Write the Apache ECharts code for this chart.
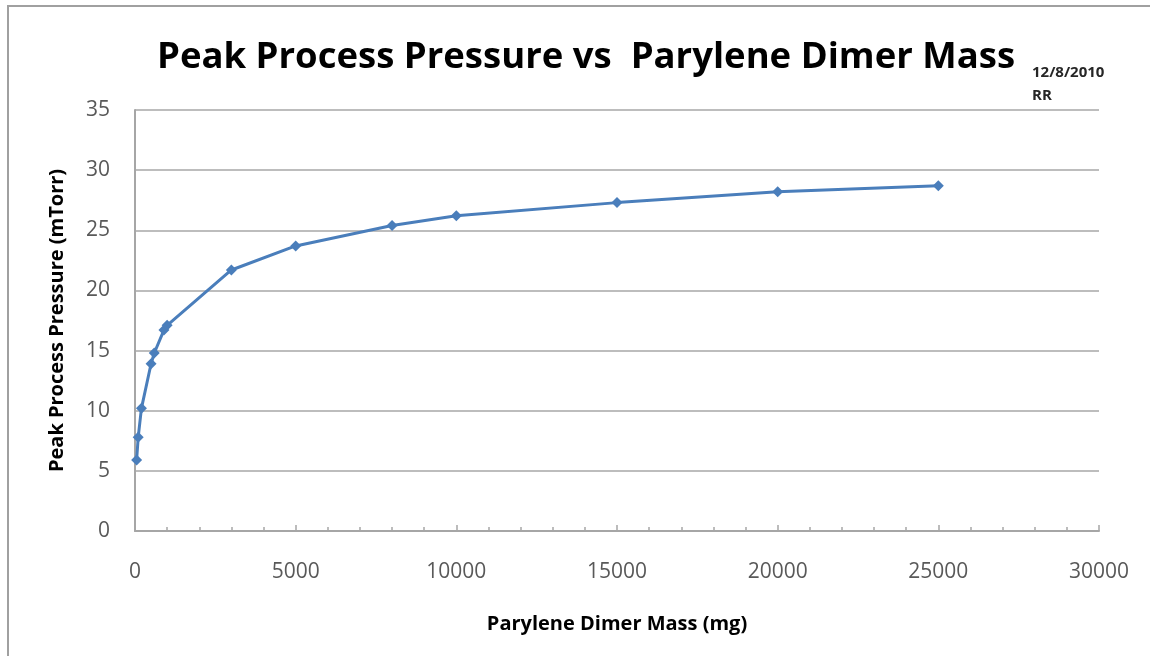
<!DOCTYPE html>
<html>
<head>
<meta charset="utf-8">
<script src="https://cdn.jsdelivr.net/npm/echarts@6/dist/echarts.min.js"></script>
<style>
  html, body { margin: 0; padding: 0; background: #ffffff; }
  #chart { width: 1150px; height: 656px; }
</style>
</head>
<body>
<div id="chart"></div>
<script>
// Dimer mass loaded (mg) and the peak pressure reached (mTorr)
const dimerMass = [50, 100, 200, 500, 600, 900, 1000, 3000, 5000, 8000, 10000, 15000, 20000, 25000];
const peakPressure = [5.9, 7.8, 10.2, 13.9, 14.8, 16.7, 17.1, 21.7, 23.7, 25.4, 26.2, 27.3, 28.2, 28.7];

const chartTitle = 'Peak Process Pressure vs  Parylene Dimer Mass';
const xAxisTitle = 'Parylene Dimer Mass (mg)';
const yAxisTitle = 'Peak Process Pressure (mTorr)';
const noteLines = ['12/8/2010', 'RR'];

const FONT = '"Open Sans", "Noto Sans", sans-serif';
const LINE_BLUE = '#4a7ebb';
const AXIS_GRAY = '#a6a6a6';
const LABEL_GRAY = '#595959';

const points = dimerMass.map((m, i) => [m, peakPressure[i]]);

const chart = echarts.init(document.getElementById('chart'), null, { renderer: 'canvas' });

chart.setOption({
  backgroundColor: '#ffffff',
  animation: false,
  title: {
    text: chartTitle,
    left: 581,
    textAlign: 'center',
    top: 34,
    textStyle: { fontFamily: FONT, fontWeight: 'bold', fontSize: 36.5, color: '#000000' }
  },
  graphic: [
    {
      type: 'rect',
      shape: { x: 8, y: 6, width: 1160, height: 670 },
      style: { fill: 'none', stroke: '#a0a0a0', lineWidth: 2 },
      silent: true
    },
    {
      type: 'text',
      left: 1032,
      top: 61,
      style: {
        text: noteLines.join('\n'),
        fontFamily: FONT,
        fontWeight: 'bold',
        fontSize: 15,
        lineHeight: 23,
        fill: '#262626'
      }
    }
  ],
  grid: { left: 135, right: 51, top: 110, bottom: 125, containLabel: false },
  xAxis: {
    type: 'value',
    min: 0,
    max: 30000,
    interval: 5000,
    name: xAxisTitle,
    nameLocation: 'middle',
    nameGap: 83,
    nameTextStyle: { fontFamily: FONT, fontWeight: 'bold', fontSize: 20, color: '#000000' },
    axisLine: { show: true, lineStyle: { color: AXIS_GRAY, width: 2 } },
    axisTick: { show: true, inside: true, length: 6, lineStyle: { color: AXIS_GRAY, width: 1.5 } },
    minorTick: { show: true, splitNumber: 5, length: 4, lineStyle: { color: AXIS_GRAY, width: 1.5 } },
    axisLabel: {
      fontFamily: FONT, fontSize: 21, color: LABEL_GRAY, margin: 31,
      formatter: (v) => String(v)
    },
    splitLine: { show: false }
  },
  yAxis: {
    type: 'value',
    min: 0,
    max: 35,
    interval: 5,
    name: yAxisTitle,
    nameLocation: 'middle',
    nameRotate: 90,
    nameGap: 68,
    nameTextStyle: { fontFamily: FONT, fontWeight: 'bold', fontSize: 20, color: '#000000' },
    axisLine: { show: true, lineStyle: { color: AXIS_GRAY, width: 2 } },
    axisTick: { show: false },
    axisLabel: { fontFamily: FONT, fontSize: 21, color: LABEL_GRAY, margin: 25 },
    splitLine: { show: true, lineStyle: { color: '#bdbdbd', width: 2 } }
  },
  series: [
    {
      type: 'line',
      data: points,
      symbol: 'diamond',
      symbolSize: 11,
      showAllSymbol: true,
      lineStyle: { color: LINE_BLUE, width: 3 },
      itemStyle: { color: LINE_BLUE },
      z: 3
    }
  ]
});
</script>
</body>
</html>
